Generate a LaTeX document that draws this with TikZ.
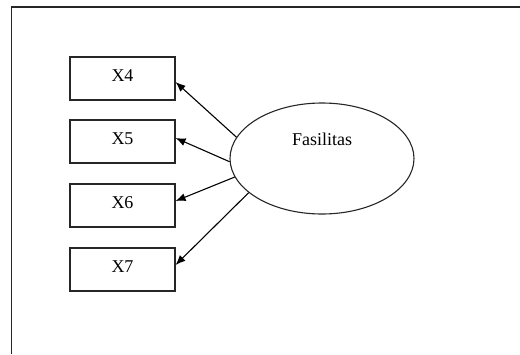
\documentclass[tikz,border=0pt]{standalone}
\usepackage{fontspec}
\setmainfont{Liberation Serif}
\usetikzlibrary{arrows.meta,shapes.geometric}
\begin{document}
\begin{tikzpicture}[x=1pt,y=1pt,
  ind/.style={draw=black!85,line width=1.1pt,minimum width=105pt,minimum height=43pt,inner sep=0pt,
    font=\fontsize{18}{20}\selectfont,text height=12pt,text depth=6pt},
  lat/.style={draw=black!85,line width=1.1pt,ellipse,minimum width=184pt,minimum height=111pt,inner sep=0pt},
  conn/.style={line width=1.1pt,-{Latex[length=10pt,width=8pt]}}
]
\useasboundingbox (0,0) rectangle (520,-354);
\coordinate (fr1) at (520,-7);
\coordinate (fr2) at (11.5,-7);
\coordinate (fr3) at (11.5,-354);
\draw[line width=1.1pt,black!85] (fr1) -- (fr2) -- (fr3);
\node[ind] (X4) at (122.5,-78.5) {X4};
\node[ind] (X5) at (122.5,-141.5) {X5};
\node[ind] (X6) at (122.5,-205.5) {X6};
\node[ind] (X7) at (122.5,-269.5) {X7};
\node[lat] (F) at (322,-158.5) {};
\node[anchor=base,font=\fontsize{18}{20}\selectfont] (Ft) at ([yshift=13.5pt]F.center) {Fasilitas};
\draw[conn] (F.166) -- ([yshift=-3.5pt]X4.east);
\draw[conn] (F.182) -- ([yshift=3.5pt]X5.east);
\draw[conn] (F.192) -- ([yshift=4.5pt]X6.east);
\draw[conn] (F.205) -- ([yshift=4.5pt]X7.east);
\end{tikzpicture}
\end{document}
